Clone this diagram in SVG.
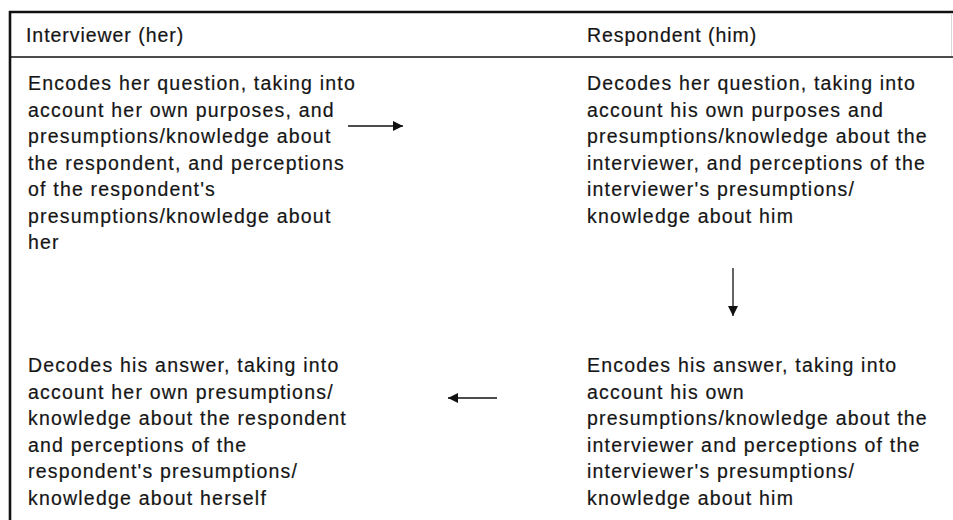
<svg xmlns="http://www.w3.org/2000/svg" width="953" height="520" viewBox="0 0 953 520">
  <style>
    .t { font-family: "Liberation Sans", Arial, Helvetica, sans-serif; font-size: 19.5px; letter-spacing: 1.2px; fill: #151515; stroke: #151515; stroke-width: 0.2; }
    .h { letter-spacing: 0.95px; }
    .rule { stroke: #111; fill: none; }
    .conn { stroke: #111; stroke-width: 1.3; fill: none; marker-end: url(#head); }
  </style>
  <defs>
    <marker id="head" viewBox="0 0 10 10" refX="10" refY="5" markerUnits="userSpaceOnUse" markerWidth="11" markerHeight="10" orient="auto">
      <path d="M0,0 L10,5 L0,10 Z" fill="#111"/>
    </marker>
  </defs>

  <rect width="953" height="520" fill="#ffffff"/>

  <!-- table frame -->
  <g id="frame">
    <line class="rule" x1="9" y1="12" x2="953" y2="12" stroke-width="2.6"/>
    <line class="rule" x1="10" y1="11" x2="10" y2="520" stroke-width="2.6"/>
    <line class="rule" x1="9" y1="57" x2="953" y2="57" stroke-width="1.5"/>
    <line x1="951.5" y1="13" x2="951.5" y2="56" stroke="#d8d8d8" stroke-width="1"/>
  </g>

  <!-- column headings -->
  <g id="head-interviewer">
    <text class="t h" x="26" y="42">Interviewer (her)</text>
  </g>
  <g id="head-respondent">
    <text class="t h" x="587" y="42">Respondent (him)</text>
  </g>

  <!-- step 1: interviewer encodes -->
  <g id="encode-question">
    <text class="t" x="28" y="90">Encodes her question, taking into</text>
    <text class="t" x="28" y="116.5">account her own purposes, and</text>
    <text class="t" x="28" y="143">presumptions/knowledge about</text>
    <text class="t" x="28" y="169.5">the respondent, and perceptions</text>
    <text class="t" x="28" y="196">of the respondent's</text>
    <text class="t" x="28" y="222.5">presumptions/knowledge about</text>
    <text class="t" x="28" y="249">her</text>
  </g>

  <!-- step 2: respondent decodes -->
  <g id="decode-question">
    <text class="t" x="587" y="90">Decodes her question, taking into</text>
    <text class="t" x="587" y="116.5">account his own purposes and</text>
    <text class="t" x="587" y="143">presumptions/knowledge about the</text>
    <text class="t" x="587" y="169.5">interviewer, and perceptions of the</text>
    <text class="t" x="587" y="196">interviewer's presumptions/</text>
    <text class="t" x="587" y="222.5">knowledge about him</text>
  </g>

  <!-- step 3: respondent encodes -->
  <g id="encode-answer">
    <text class="t" x="587" y="372">Encodes his answer, taking into</text>
    <text class="t" x="587" y="398.5">account his own</text>
    <text class="t" x="587" y="425">presumptions/knowledge about the</text>
    <text class="t" x="587" y="451.5">interviewer and perceptions of the</text>
    <text class="t" x="587" y="478">interviewer's presumptions/</text>
    <text class="t" x="587" y="504.5">knowledge about him</text>
  </g>

  <!-- step 4: interviewer decodes -->
  <g id="decode-answer">
    <text class="t" x="28" y="372">Decodes his answer, taking into</text>
    <text class="t" x="28" y="398.5">account her own presumptions/</text>
    <text class="t" x="28" y="425">knowledge about the respondent</text>
    <text class="t" x="28" y="451.5">and perceptions of the</text>
    <text class="t" x="28" y="478">respondent's presumptions/</text>
    <text class="t" x="28" y="504.5">knowledge about herself</text>
  </g>

  <!-- flow between the four steps -->
  <g id="connectors">
    <line class="conn" x1="348" y1="126" x2="403" y2="126"/>
    <line class="conn" x1="733" y1="268" x2="733" y2="316"/>
    <line class="conn" x1="497" y1="398" x2="448" y2="398"/>
  </g>
</svg>
